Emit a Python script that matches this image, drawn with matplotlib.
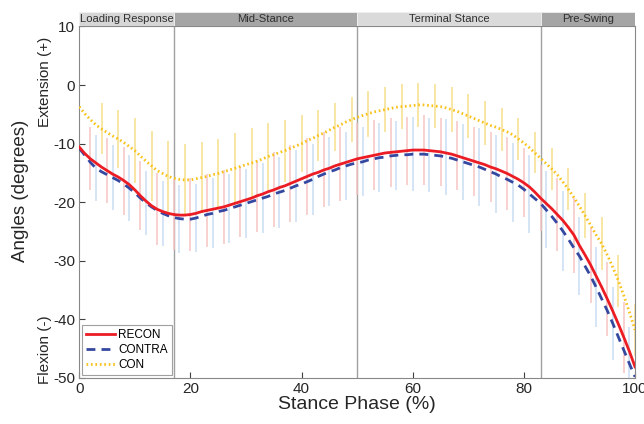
import numpy as np
import matplotlib
matplotlib.use('Agg')
import matplotlib.pyplot as plt

plt.rcParams['font.family'] = ['Liberation Sans', 'DejaVu Sans']
plt.rcParams['axes.unicode_minus'] = False

# stance phase in percent, one sample per percent
phase = np.arange(0, 101)

recon = [-10.6, -11.7, -12.6, -13.3, -14.0, -14.6, -15.2, -15.7, -16.3, -17.0,
         -17.9, -18.9, -19.8, -20.6, -21.2, -21.6, -21.9, -22.1, -22.2, -22.2,
         -22.1, -21.9, -21.6, -21.4, -21.2, -21.0, -20.8, -20.5, -20.2, -19.9,
         -19.6, -19.3, -18.9, -18.6, -18.2, -17.9, -17.5, -17.2, -16.8, -16.4,
         -16.0, -15.6, -15.2, -14.9, -14.5, -14.2, -13.8, -13.5, -13.2, -12.9,
         -12.6, -12.4, -12.2, -12.0, -11.8, -11.6, -11.5, -11.4, -11.3, -11.2,
         -11.1, -11.1, -11.1, -11.2, -11.3, -11.4, -11.6, -11.8, -12.1, -12.4,
         -12.7, -13.0, -13.3, -13.6, -14.0, -14.3, -14.7, -15.1, -15.6, -16.1,
         -16.7, -17.4, -18.3, -19.3, -20.2, -21.1, -22.1, -23.1, -24.3, -25.6,
         -27.4, -29.0, -30.7, -32.6, -34.5, -36.5, -38.6, -40.8, -43.1, -45.5,
         -48.1]

contra = [-10.8, -12.0, -13.2, -14.2, -14.8, -15.3, -15.8, -16.3, -16.9, -17.6,
          -18.4, -19.3, -20.1, -20.8, -21.4, -21.9, -22.3, -22.6, -22.8, -22.9,
          -22.9, -22.7, -22.4, -22.1, -21.9, -21.6, -21.4, -21.1, -20.8, -20.5,
          -20.2, -19.9, -19.6, -19.3, -19.0, -18.6, -18.3, -18.0, -17.6, -17.2,
          -16.9, -16.5, -16.1, -15.6, -15.2, -14.8, -14.5, -14.1, -13.8, -13.5,
          -13.3, -13.1, -12.8, -12.6, -12.4, -12.3, -12.1, -12.0, -11.9, -11.9,
          -11.8, -11.8, -11.8, -11.9, -12.0, -12.1, -12.3, -12.5, -12.8, -13.1,
          -13.4, -13.7, -14.0, -14.4, -14.8, -15.2, -15.7, -16.1, -16.6, -17.1,
          -17.8, -18.6, -19.4, -20.2, -21.3, -22.4, -23.6, -24.9, -26.3, -27.8,
          -29.2, -30.9, -32.6, -34.5, -36.5, -38.5, -40.7, -43.0, -45.3, -47.6,
          -49.8]

con = [-3.7, -4.9, -5.9, -6.8, -7.5, -8.1, -8.7, -9.2, -9.8, -10.5,
       -11.2, -12.1, -13.0, -13.8, -14.6, -15.1, -15.6, -15.9, -16.1, -16.2,
       -16.2, -16.0, -15.8, -15.6, -15.3, -15.1, -14.8, -14.5, -14.2, -13.9,
       -13.6, -13.3, -13.0, -12.6, -12.2, -11.9, -11.5, -11.2, -10.8, -10.4,
       -10.0, -9.5, -9.1, -8.6, -8.2, -7.7, -7.2, -6.8, -6.3, -5.9,
       -5.5, -5.2, -4.9, -4.6, -4.4, -4.2, -4.0, -3.8, -3.7, -3.6,
       -3.5, -3.4, -3.4, -3.5, -3.6, -3.7, -3.9, -4.2, -4.5, -4.9,
       -5.3, -5.7, -6.1, -6.5, -6.9, -7.2, -7.6, -8.0, -8.5, -9.2,
       -9.9, -10.7, -11.6, -12.5, -13.4, -14.3, -15.3, -16.5, -17.8, -19.2,
       -20.7, -22.3, -23.9, -25.6, -27.1, -29.0, -31.1, -33.4, -36.0, -38.8,
       -41.8]

# standard deviations, shown every third sample (offset per group)
recon_sd_at = np.arange(2, 99, 3)
recon_sd = [5.4, 5.5, 5.8, 5.9, 6.1, 6.1, 6.2, 6.2, 6.3, 6.1, 6.1,
            6.4, 6.5, 6.5, 6.4, 6.3, 6.2, 6.0, 5.9, 5.8, 5.9, 5.8,
            5.9, 5.9, 6.0, 6.2, 5.9, 5.6, 6.3, 6.4, 6.5, 6.3, 6.0]
contra_sd_at = np.arange(3, 100, 3)
contra_sd = [5.6, 5.6, 5.6, 5.5, 5.6, 5.8, 5.8, 6.0, 5.9, 5.9, 6.0,
             6.1, 6.1, 6.1, 5.9, 5.8, 5.9, 5.9, 5.9, 6.3, 6.3, 6.5,
             6.5, 6.6, 6.6, 6.7, 6.7, 6.6, 6.8, 6.7, 6.8, 6.3, 6.3]
con_sd_at = np.arange(4, 101, 3)
con_sd = [4.35, 4.9, 5.5, 6.0, 6.0, 6.1, 6.0, 5.9, 6.0, 5.9, 5.7,
          5.3, 4.9, 4.4, 4.1, 3.8, 3.9, 3.8, 3.8, 3.8, 3.75, 3.8,
          3.7, 3.7, 3.6, 3.6, 3.5, 3.6, 3.6, 3.8, 4.5, 4.4, 4.4]

phase_names = ['Loading Response', 'Mid-Stance', 'Terminal Stance', 'Pre-Swing']
phase_edges = [0, 17, 50, 83, 100]
phase_colors = ['#d6d6d6', '#a5a5a5', '#dadada', '#a5a5a5']

fig = plt.figure(figsize=(6.44, 4.24), dpi=100)
ax = fig.add_axes([0.1231, 0.1085, 0.8630, 0.8292])

# error bars first so the means sit on top
recon = np.array(recon)
contra = np.array(contra)
con = np.array(con)
ax.vlines(con_sd_at, con[con_sd_at] - np.array(con_sd), con[con_sd_at] + np.array(con_sd),
          color='#f7df8c', lw=1.1, zorder=2)
ax.vlines(recon_sd_at, recon[recon_sd_at] - np.array(recon_sd), recon[recon_sd_at] + np.array(recon_sd),
          color='#f6c3c3', lw=1.1, zorder=2)
ax.vlines(contra_sd_at, contra[contra_sd_at] - np.array(contra_sd), contra[contra_sd_at] + np.array(contra_sd),
          color='#c9def3', lw=1.1, zorder=2)

# phase boundaries
for e in phase_edges[1:-1]:
    ax.axvline(e, color='#a0a0a0', lw=1.0, zorder=1)

ax.plot(phase, recon, color='#ec1c24', lw=2.0, label='RECON', zorder=4)
ax.plot(phase, contra, color='#3548a0', lw=2.0, ls=(0, (3.2, 2.2)), label='CONTRA', zorder=3)
ax.plot(phase, con, color='#f8c21a', lw=2.0, ls=(0, (0.6, 1.0)), label='CON', zorder=3)

ax.set_xlim(0, 100)
ax.set_ylim(-50, 10)
ax.set_xticks([0, 20, 40, 60, 80, 100])
ax.set_yticks([-50, -40, -30, -20, -10, 0, 10])
ax.tick_params(direction='in', length=4, width=0.8, color='#404040', labelsize=11,
               labelcolor='#262626', top=False, right=False, pad=3)
for s in ax.spines.values():
    s.set_color('#888888')
    s.set_linewidth(0.8)

ax.set_xlabel('Stance Phase (%)', fontsize=14, color='#262626', labelpad=0)
fig.text(0.032, 0.55, 'Angles (degrees)', rotation=90, fontsize=13.5, color='#262626',
         ha='center', va='center')
fig.text(0.070, 0.807, 'Extension (+)', rotation=90, fontsize=11, color='#262626',
         ha='center', va='center')
fig.text(0.070, 0.175, 'Flexion (-)', rotation=90, fontsize=11, color='#262626',
         ha='center', va='center')

leg = ax.legend(loc='lower left', fontsize=8.5, handlelength=2.4, frameon=True, fancybox=False,
                borderaxespad=0.25, borderpad=0.35, labelspacing=0.25, handletextpad=0.3)
leg.get_frame().set_edgecolor('#888888')
leg.get_frame().set_linewidth(0.8)

# gait phase band above the plot
band = fig.add_axes([0.1231, 0.9377, 0.8630, 0.0350], sharex=ax)
for name, lo, hi, c in zip(phase_names, phase_edges[:-1], phase_edges[1:], phase_colors):
    band.axvspan(lo, hi, facecolor=c, edgecolor='#f0f0f0', lw=0.6)
    band.text((lo + hi) / 2, 0.5, name, ha='center', va='center', fontsize=8.1, color='#303030')
band.set_ylim(0, 1)
band.axis('off')

fig.savefig('out.png', dpi=100)
